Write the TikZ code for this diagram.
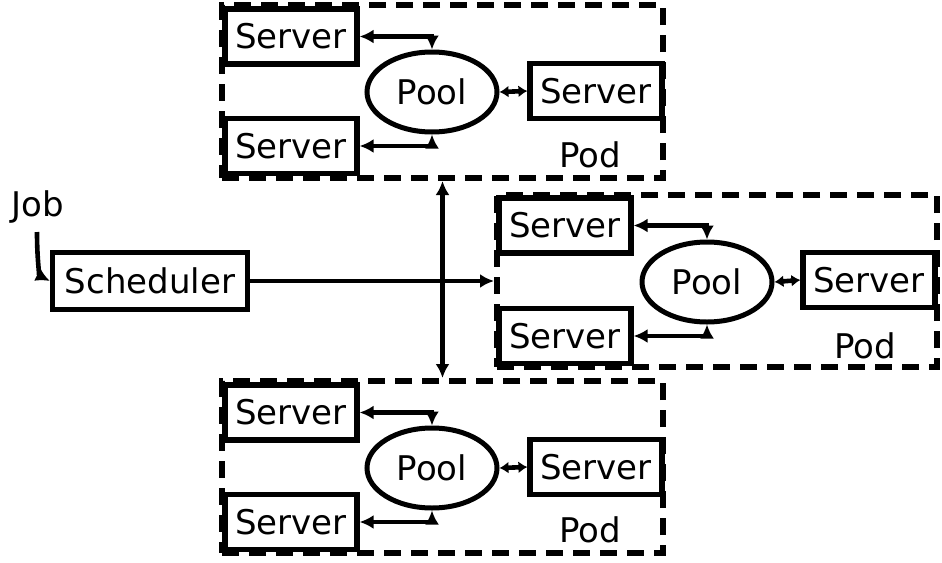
\documentclass[tikz,border=0pt]{standalone}
\usepackage{fontspec}
\setmainfont{DejaVu Sans}
\usetikzlibrary{arrows.meta,shapes.geometric}
\begin{document}
\begin{tikzpicture}[x=1pt,y=-1pt,
  srv/.style={draw,line width=5.2pt,minimum width=132pt,minimum height=55pt,inner sep=0pt,font=\fontsize{34}{34}\selectfont},
  poolnode/.style={draw,ellipse,line width=5pt,minimum width=130pt,minimum height=80pt,inner sep=0pt,font=\fontsize{34}{34}\selectfont},
  podbox/.style={draw,dash pattern=on 17pt off 10pt,line width=6pt,inner sep=0pt},
  lbl/.style={font=\fontsize{34}{34}\selectfont,inner sep=0pt},
  conn/.style={line width=4.6pt,{Latex[length=14pt,width=14pt]}-{Latex[length=14pt,width=14pt]}},
  shortconn/.style={line width=4.6pt,{Latex[length=9pt,width=12pt]}-{Latex[length=9pt,width=12pt]}},
  oneway/.style={line width=4.6pt,-{Latex[length=14pt,width=14pt]}}
]
\useasboundingbox (0,0) rectangle (942,562);
% pods
\node[podbox,minimum width=441pt,minimum height=173pt] (pod1) at (442.5,91.5) {};
\node[podbox,minimum width=440pt,minimum height=172pt] (pod2) at (717,281) {};
\node[podbox,minimum width=441pt,minimum height=172pt] (pod3) at (442.5,467) {};
% top pod
\node[srv,fill=white] (s1a) at (291,36.5) {Server};
\node[srv,fill=white] (s1b) at (291,146) {Server};
\node[poolnode] (p1) at (432,92) {Pool};
\node[srv,fill=white] (s1c) at (596,91) {Server};
\node[lbl] (l1) at (590,155) {Pod};
% middle pod
\node[srv,fill=white] (s2a) at (565,225.5) {Server};
\node[srv,fill=white] (s2b) at (565,336) {Server};
\node[poolnode] (p2) at (707,282) {Pool};
\node[srv,fill=white] (s2c) at (869,280) {Server};
\node[lbl] (l2) at (865,346) {Pod};
% bottom pod
\node[srv,fill=white] (s3a) at (291,412.5) {Server};
\node[srv,fill=white] (s3b) at (291,522) {Server};
\node[poolnode] (p3) at (432,468) {Pool};
\node[srv,fill=white] (s3c) at (596,467) {Server};
\node[lbl] (l3) at (590,530) {Pod};
% scheduler
\node[srv,minimum width=195pt,minimum height=57pt] (sch) at (150,281) {Scheduler};
\node[lbl] (job) at (38,207) {Job};
\coordinate (jobstart) at (37,232);
% connectors
\foreach \i in {1,2,3}{
  \draw[conn] (s\i a.east) -| (p\i.north);
  \draw[conn] (s\i b.east) -| (p\i.south);
  \draw[shortconn] (p\i.east) -- (s\i c.west);
}
\draw[oneway] (sch.east) -- (pod2.west);
\draw[conn] (pod1.south) -- (pod3.north);
\draw[oneway] (jobstart) .. controls (37,262) and (40,276) .. (sch.west);
\end{tikzpicture}
\end{document}
